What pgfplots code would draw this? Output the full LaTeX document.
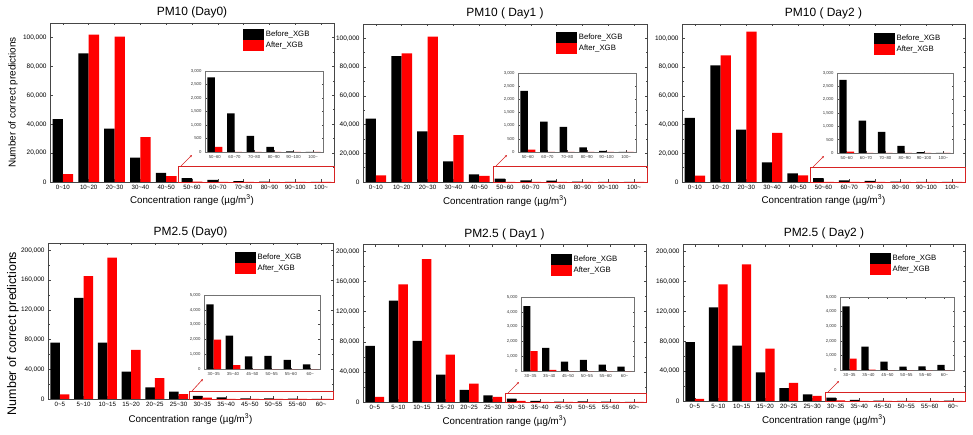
\documentclass[border=0pt]{standalone}
\usepackage{fontspec}
\setmainfont{Liberation Sans}
\usepackage{pgfplots}
\pgfplotsset{compat=1.18}
\usetikzlibrary{arrows.meta}

\newcommand{\ti}{\textasciitilde}
\definecolor{barred}{RGB}{255,0,0}
\definecolor{frame}{RGB}{70,70,70}
\definecolor{zoomred}{RGB}{215,35,35}

\pgfplotsset{
  common/.style={
    scale only axis, anchor=south west,
    xmin=-0.5, ymin=0,
    axis line style={draw=frame},
    tick style={draw=frame, line width=0.5bp},
    tick align=inside,
    /pgf/number format/fixed,
    /pgf/number format/1000 sep={,},
    /pgf/number format/assume math mode=true,
    scaled y ticks=false,
    xtick={0,...,11},
    clip=false,
  },
  panel/.style={
    common,
    axis line style={line width=0.7bp},
    major tick length=2.5bp, minor tick length=1.5bp,
    minor y tick num=1,
    x tick label style={font=\fontsize{6.2}{7}\selectfont},
    y tick label style={font=\fontsize{6.5}{7}\selectfont},
    every axis title/.style={font=\fontsize{12}{14}\selectfont, at={(0.5,1)}, anchor=base, yshift=7bp},
    every axis x label/.style={at={(axis description cs:0.5,0)}, anchor=center,
      font=\fontsize{9.8}{11}\selectfont},
    every axis y label/.style={rotate=90, anchor=center},
    xlabel={Concentration range (µg/m\textsuperscript{3})},
    legend cell align=left,
    legend image code/.code={\fill[##1] (0bp,-5.4bp) rectangle (21bp,5.4bp);},
    legend style={draw=none, fill=none, inner sep=0pt, row sep=0pt,
      font=\fontsize{7.8}{9}\selectfont,
      nodes={inner xsep=1.5bp, inner ysep=0pt, minimum height=10.8bp}},
  },
  pm10/.style={panel, xmax=10.5, ymax=110000, ytick={0,20000,...,100000},
    xticklabels={0\ti10,10\ti20,20\ti30,30\ti40,40\ti50,50\ti60,60\ti70,70\ti80,80\ti90,90\ti100,100\ti}},
  pm25/.style={panel, xmax=11.5, ymax=210000, ytick={0,40000,...,200000},
    xticklabels={0\ti5,5\ti10,10\ti15,15\ti20,20\ti25,25\ti30,30\ti35,35\ti40,45\ti50,50\ti55,55\ti60,60\ti}},
  inset/.style={
    common, xmax=5.5,
    axis background/.style={fill=white},
    axis line style={draw=black!55, line width=0.5bp},
    major tick length=1.5bp,
    tick label style={font=\fontsize{4.3}{5}\selectfont, text=black!80},
  },
  in10/.style={inset, ymax=3000, ytick={0,500,...,3000},
    xticklabels={50\ti60,60\ti70,70\ti80,80\ti90,90\ti100,100\ti}},
  in25/.style={inset, ymax=5000, ytick={0,1000,...,5000},
    xticklabels={30\ti35,35\ti40,45\ti50,50\ti55,55\ti60,60\ti}},
  before/.style={ybar, bar width=0.4, bar shift=-0.2, fill=black, draw=none},
  after/.style={ybar, bar width=0.4, bar shift=0.2, fill=barred, draw=none},
  ibefore/.style={ybar, bar width=0.38, bar shift=-0.19, fill=black, draw=none},
  iafter/.style={ybar, bar width=0.38, bar shift=0.19, fill=barred, draw=none},
}

% zoom frame and arrow linking the low-count range to its enlarged view
\newcommand{\zoombox}[5]{%
  \draw[zoomred, line width=0.7bp] (#1bp,#2bp) rectangle (#3bp,#4bp);
  \draw[zoomred, line width=0.6bp, -{Stealth[length=2.6bp,width=2.2bp]}]
    ({(#1+3)*1bp},{#4*1bp}) -- ({(#1+14)*1bp},{(#4+#5)*1bp});
}

\begin{document}
\begin{tikzpicture}
\useasboundingbox (0,0) rectangle (973bp,435bp);

% ---------------- PM10, Day 0 ----------------
\begin{axis}[pm10, at={(50bp,253bp)}, width=284bp, height=159bp,
  title={PM10 (Day0)},
  ylabel={Number of correct predictions},
  ylabel style={at={([xshift=-37bp]axis description cs:0,0.5)}, font=\fontsize{10}{12}\selectfont},
  xlabel style={yshift=-18bp},
  legend style={at={(0.68,0.962)}, anchor=north west}]
\addplot[before] coordinates {(0,43500) (1,89000) (2,37000) (3,16800) (4,6300) (5,2760) (6,1430) (7,600) (8,190) (9,25) (10,0)};
\addplot[after] coordinates {(0,5500) (1,102000) (2,100500) (3,31000) (4,4000) (5,190) (6,0) (7,0) (8,0) (9,0) (10,0)};
\legend{Before\_XGB, After\_XGB}
\end{axis}
\begin{axis}[in10, at={(205bp,283bp)}, width=118bp, height=81bp]
\addplot[ibefore] coordinates {(0,2760) (1,1430) (2,600) (3,190) (4,25) (5,0)};
\addplot[iafter] coordinates {(0,190) (1,0) (2,0) (3,0) (4,0) (5,0)};
\end{axis}
\zoombox{178}{253}{334}{269}{11}

% ---------------- PM10, Day 1 ----------------
\begin{axis}[pm10, at={(363bp,253bp)}, width=284bp, height=158bp,
  title={PM10 ( Day1 )},
  xlabel style={yshift=-19bp},
  legend style={at={(0.68,0.949)}, anchor=north west}]
\addplot[before] coordinates {(0,44200) (1,87700) (2,35300) (3,14400) (4,5300) (5,2320) (6,1150) (7,950) (8,180) (9,40) (10,0)};
\addplot[after] coordinates {(0,4650) (1,89500) (2,101200) (3,32600) (4,4200) (5,90) (6,0) (7,0) (8,0) (9,0) (10,0)};
\legend{Before\_XGB, After\_XGB}
\end{axis}
\begin{axis}[in10, at={(518bp,283bp)}, width=118bp, height=79bp]
\addplot[ibefore] coordinates {(0,2320) (1,1150) (2,950) (3,180) (4,40) (5,0)};
\addplot[iafter] coordinates {(0,90) (1,0) (2,0) (3,0) (4,0) (5,0)};
\end{axis}
\zoombox{493}{253}{647}{269}{11}

% ---------------- PM10, Day 2 ----------------
\begin{axis}[pm10, at={(682bp,253bp)}, width=283bp, height=158bp,
  title={PM10 ( Day2 )},
  xlabel style={yshift=-18bp},
  legend style={at={(0.678,0.943)}, anchor=north west}]
\addplot[before] coordinates {(0,44700) (1,81200) (2,36500) (3,13700) (4,6000) (5,2740) (6,1210) (7,790) (8,270) (9,30) (10,0)};
\addplot[after] coordinates {(0,4400) (1,88100) (2,104700) (3,34200) (4,4600) (5,50) (6,0) (7,0) (8,0) (9,0) (10,0)};
\legend{Before\_XGB, After\_XGB}
\end{axis}
\begin{axis}[in10, at={(837bp,282bp)}, width=116bp, height=80bp]
\addplot[ibefore] coordinates {(0,2740) (1,1210) (2,790) (3,270) (4,30) (5,0)};
\addplot[iafter] coordinates {(0,50) (1,0) (2,0) (3,0) (4,0) (5,0)};
\end{axis}
\zoombox{810}{253}{965}{268}{11}

% ---------------- PM2.5, Day 0 ----------------
\begin{axis}[pm25, at={(48bp,36bp)}, width=285bp, height=156bp,
  title={PM2.5 (Day0)},
  ylabel={Number of correct predictions},
  ylabel style={at={([xshift=-35bp]axis description cs:0,0.42)}, font=\fontsize{12.5}{14}\selectfont},
  xlabel style={yshift=-20bp},
  legend style={at={(0.656,0.942)}, anchor=north west}]
\addplot[before] coordinates {(0,76000) (1,136000) (2,76000) (3,37000) (4,15500) (5,10000) (6,4370) (7,2250) (8,855) (9,880) (10,610) (11,315)};
\addplot[after] coordinates {(0,6300) (1,165500) (2,190200) (3,66000) (4,28000) (5,6500) (6,1980) (7,270) (8,0) (9,0) (10,0) (11,0)};
\legend{Before\_XGB, After\_XGB}
\end{axis}
\begin{axis}[in25, at={(204bp,66bp)}, width=116bp, height=74bp]
\addplot[ibefore] coordinates {(0,4370) (1,2250) (2,855) (3,880) (4,610) (5,315)};
\addplot[iafter] coordinates {(0,1980) (1,270) (2,0) (3,0) (4,0) (5,0)};
\end{axis}
\zoombox{189}{36}{333}{44}{12}

% ---------------- PM2.5, Day 1 ----------------
\begin{axis}[pm25, at={(363bp,33bp)}, width=283bp, height=158bp,
  title={PM2.5 ( Day1 )},
  xlabel style={yshift=-19bp},
  legend style={at={(0.664,0.937)}, anchor=north west}]
\addplot[before] coordinates {(0,74700) (1,134700) (2,81300) (3,36400) (4,16000) (5,8900) (6,4390) (7,1560) (8,633) (9,747) (10,430) (11,294)};
\addplot[after] coordinates {(0,6700) (1,156400) (2,189800) (3,63100) (4,24400) (5,6700) (6,1335) (7,70) (8,0) (9,0) (10,0) (11,0)};
\legend{Before\_XGB, After\_XGB}
\end{axis}
\begin{axis}[in25, at={(521bp,64bp)}, width=113bp, height=74bp]
\addplot[ibefore] coordinates {(0,4390) (1,1560) (2,633) (3,747) (4,430) (5,294)};
\addplot[iafter] coordinates {(0,1335) (1,70) (2,0) (3,0) (4,0) (5,0)};
\end{axis}
\zoombox{505}{33}{646}{42}{11}

% ---------------- PM2.5, Day 2 ----------------
\begin{axis}[pm25, at={(683bp,34bp)}, width=282bp, height=157bp,
  title={PM2.5 ( Day2 )},
  xlabel style={yshift=-19bp},
  legend style={at={(0.663,0.943)}, anchor=north west}]
\addplot[before] coordinates {(0,78700) (1,125300) (2,74200) (3,38200) (4,17300) (5,8900) (6,4360) (7,1600) (8,573) (9,229) (10,252) (11,344)};
\addplot[after] coordinates {(0,2700) (1,156000) (2,182700) (3,70200) (4,24400) (5,6700) (6,780) (7,20) (8,0) (9,0) (10,0) (11,0)};
\legend{Before\_XGB, After\_XGB}
\end{axis}
\begin{axis}[in25, at={(840bp,65bp)}, width=114bp, height=73bp]
\addplot[ibefore] coordinates {(0,4360) (1,1600) (2,573) (3,229) (4,252) (5,344)};
\addplot[iafter] coordinates {(0,780) (1,20) (2,0) (3,0) (4,0) (5,0)};
\end{axis}
\zoombox{825}{34}{965}{43}{11}

\end{tikzpicture}
\end{document}
